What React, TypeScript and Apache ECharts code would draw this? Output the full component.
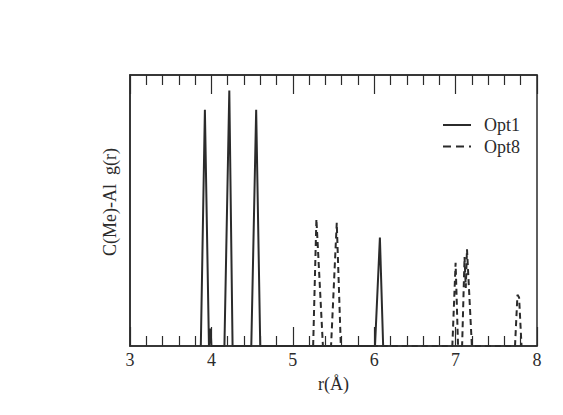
import React, { useEffect, useRef } from "react";
import * as echarts from "echarts";

const opt1R = [3.87, 3.92, 3.97, 3.99, 4.0, 4.16, 4.22, 4.26, 4.49, 4.55, 4.6, 6.01, 6.07, 6.11];
const opt1G = [0, 12.2, 0, 0.9, 0, 0, 13.2, 0, 0, 12.2, 0, 0, 5.6, 0];
const opt8R = [5.25, 5.29, 5.37, 5.47, 5.54, 5.59, 6.96, 7.0, 7.03, 7.08, 7.11, 7.125, 7.14, 7.2, 7.73, 7.76, 7.78, 7.81];
const opt8G = [0, 6.56, 0, 0, 6.37, 0, 0, 4.3, 0, 0, 4.6, 3.0, 5.0, 0, 0, 2.65, 2.5, 0];
const xTicks = [3, 4, 5, 6, 7, 8];
const legendNames = ["Opt1", "Opt8"];
const yTitle = "C(Me)-Al  g(r)";

const FONT = "Liberation Serif";
const INK = "#2b2b2b";

export default function App() {
  const ref = useRef<HTMLDivElement>(null);
  useEffect(() => {
    const chart = echarts.init(ref.current!, null, { renderer: "svg" });
    const pair = (r: number[], g: number[]) => r.map((v, i) => [v, g[i]]);
    const xBase = {
      type: "value",
      min: xTicks[0],
      max: xTicks[xTicks.length - 1],
      interval: 1,
      axisLine: { show: true, lineStyle: { color: INK, width: 1.5 } },
      axisTick: { show: true, inside: true, length: 19, lineStyle: { color: INK, width: 1.2 } },
      minorTick: { show: true, splitNumber: 5, length: 10, lineStyle: { color: INK, width: 1.2 } },
      splitLine: { show: false },
    };
    const graphics: any[] = [];
    legendNames.forEach((name, i) => {
      const y = 125 + i * 21.5;
      graphics.push({
        type: "line",
        shape: { x1: 443, y1: y, x2: 471, y2: y },
        style: { stroke: INK, lineWidth: 2, lineDash: i === 0 ? null : [8, 5] },
      });
      graphics.push({
        type: "text",
        x: 484,
        y: y,
        style: { text: name, fontFamily: FONT, fontSize: 18, fill: INK, verticalAlign: "middle", align: "left" },
      });
    });
    graphics.push({
      type: "text",
      x: 110,
      y: 202,
      rotation: Math.PI / 2,
      style: { text: yTitle, fontFamily: FONT, fontSize: 18, fill: INK, verticalAlign: "middle", align: "center" },
    });
    chart.setOption({
      animation: false,
      backgroundColor: "#fff",
      grid: { left: 130, right: 26, top: 75, bottom: 69, show: true, borderColor: INK, borderWidth: 1.5, backgroundColor: "transparent" },
      graphic: graphics,
      xAxis: [
        {
          ...xBase,
          position: "bottom",
          axisLabel: { show: true, fontFamily: FONT, fontSize: 18, color: INK, margin: 5 },
          name: "r(Å)",
          nameLocation: "middle",
          nameGap: 29,
          nameTextStyle: { fontFamily: FONT, fontSize: 18, color: INK },
        },
        {
          ...xBase,
          position: "top",
          axisLabel: { show: false },
        },
      ],
      yAxis: {
        type: "value",
        min: 0,
        max: 14,
        axisLine: { show: true, lineStyle: { color: INK, width: 1.5 } },
        axisTick: { show: false },
        axisLabel: { show: false },
        splitLine: { show: false },
      },
      series: [
        {
          name: "Opt1",
          type: "line",
          xAxisIndex: 0,
          data: pair(opt1R, opt1G),
          symbol: "none",
          lineStyle: { color: INK, width: 2, type: "solid" },
        },
        {
          name: "Opt8",
          type: "line",
          xAxisIndex: 0,
          data: pair(opt8R, opt8G),
          symbol: "none",
          lineStyle: { color: INK, width: 2, type: [6, 4] },
        },
      ],
    });
    return () => chart.dispose();
  }, []);
  return <div ref={ref} style={{ width: 563, height: 415, position: "absolute", left: 0, top: 0 }} />;
}
